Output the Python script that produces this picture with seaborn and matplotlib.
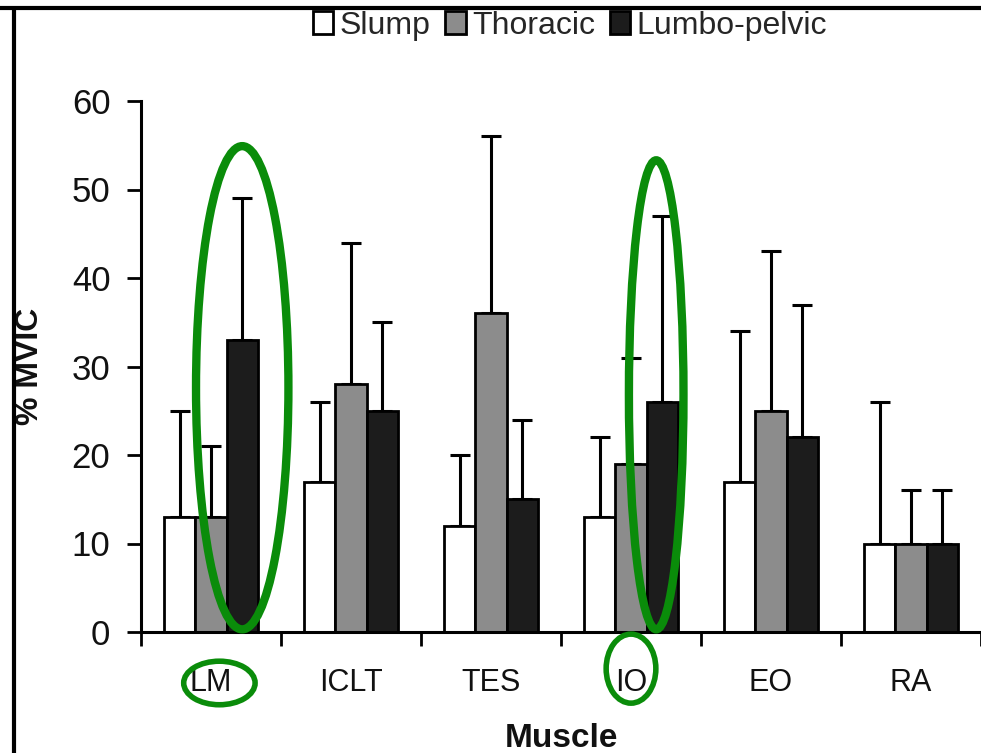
import numpy as np
import pandas as pd
import matplotlib
matplotlib.use("Agg")
import matplotlib.pyplot as plt
from matplotlib.patches import Ellipse, Patch
from matplotlib.lines import Line2D
import seaborn as sns

# ---- data ----
muscles = ["LM", "ICLT", "TES", "IO", "EO", "RA"]
postures = ["Slump", "Thoracic", "Lumbo-pelvic"]
slump_mean = [13, 17, 12, 13, 17, 10]
thoracic_mean = [13, 28, 36, 19, 25, 10]
lumbo_mean = [33, 25, 15, 26, 22, 10]
slump_sd = [12, 9, 8, 9, 17, 16]
thoracic_sd = [8, 16, 20, 12, 18, 6]
lumbo_sd = [16, 10, 9, 21, 15, 6]
y_ticks = [0, 10, 20, 30, 40, 50, 60]

colors = {"Slump": "#ffffff", "Thoracic": "#8c8c8c", "Lumbo-pelvic": "#1c1c1c"}
green = "#0a8c0a"

rows = []
for p, means, sds in zip(postures, [slump_mean, thoracic_mean, lumbo_mean],
                         [slump_sd, thoracic_sd, lumbo_sd]):
    for m, v, s in zip(muscles, means, sds):
        rows.append({"Muscle": m, "Posture": p, "Mean": v, "SD": s})
df = pd.DataFrame(rows)

sns.set_theme(style="white")
plt.rcParams["font.family"] = ["Liberation Sans", "DejaVu Sans"]

fig = plt.figure(figsize=(9.81, 7.53), dpi=100)
ax = fig.add_axes([141 / 981, 121 / 753, 840 / 981, 531 / 753])

sns.barplot(data=df, x="Muscle", y="Mean", hue="Posture", order=muscles,
            hue_order=postures, palette=colors, errorbar=None, width=0.67,
            edgecolor="black", linewidth=2, ax=ax, legend=False, zorder=2)

# error bars (upper only), positioned from the drawn bars
for i, p in enumerate(postures):
    bars = ax.patches[i * len(muscles):(i + 1) * len(muscles)]
    xs = [b.get_x() + b.get_width() / 2 for b in bars]
    sub = df[df.Posture == p].set_index("Muscle").loc[muscles]
    ax.errorbar(xs, sub["Mean"], yerr=[np.zeros(len(xs)), sub["SD"]],
                fmt="none", ecolor="black", elinewidth=2.2, capsize=7,
                capthick=2.2, zorder=1)

ax.set_ylim(0, 60)
ax.set_xlim(-0.5, (981 - 141) / 141 - 0.5)
ax.set_yticks(y_ticks)
ax.set_yticklabels([str(t) for t in y_ticks], fontsize=25, color="#111111")
ax.set_xticks(np.arange(-0.5, len(muscles), 1.0))
ax.set_xticklabels([""] * len(np.arange(-0.5, len(muscles), 1.0)))
ax.set_xticks(np.arange(len(muscles)), minor=True)
ax.set_xticklabels(muscles, minor=True, fontsize=22, color="#111111")
ax.tick_params(axis="x", which="minor", length=0, pad=26)
ax.tick_params(axis="x", which="major", length=10, width=2, direction="out",
               color="black", bottom=True)
ax.tick_params(axis="y", length=10, width=2, direction="out", color="black",
               pad=12, left=True)

for s in ["top", "right"]:
    ax.spines[s].set_visible(False)
for s in ["left", "bottom"]:
    ax.spines[s].set_color("black")
    ax.spines[s].set_linewidth(2.2)

ax.set_xlabel("Muscle", fontsize=24, fontweight="bold", color="#111111")
ax.set_ylabel("% MVIC", fontsize=23, fontweight="bold", color="#111111")
ax.xaxis.set_label_coords(0.5, -0.172)
ax.yaxis.set_label_coords(-0.114, 0.5)

handles = [Patch(facecolor=colors[p], edgecolor="black", linewidth=2) for p in postures]
fig.legend(handles, postures, loc="center", bbox_to_anchor=(0.581, 0.966), ncol=3,
           frameon=False, fontsize=23, handlelength=0.65, handleheight=0.7,
           handletextpad=0.2, columnspacing=0.45, borderpad=0)

# green annotation ellipses
xt = ax.get_xaxis_transform()
ax.add_patch(Ellipse((0 + 0.223, 27.6), 0.66, 54.6, fill=False, edgecolor=green,
                     linewidth=6, zorder=5, clip_on=False))
ax.add_patch(Ellipse((3 + 0.18, 26.8), 0.39, 53.0, fill=False, edgecolor=green,
                     linewidth=6, zorder=5, clip_on=False))
ax.add_patch(Ellipse((0.06, -0.096), 0.51, 0.082, transform=xt, fill=False,
                     edgecolor=green, linewidth=4, zorder=5, clip_on=False))
ax.add_patch(Ellipse((3.0, -0.069), 0.355, 0.13, transform=xt, fill=False,
                     edgecolor=green, linewidth=4, zorder=5, clip_on=False))

# frame lines at top and left of the picture
fig.add_artist(Line2D([0, 1], [1 - 8 / 753, 1 - 8 / 753], transform=fig.transFigure,
                      color="black", linewidth=3))
fig.add_artist(Line2D([14 / 981, 14 / 981], [0, 1 - 8 / 753], transform=fig.transFigure,
                      color="black", linewidth=3))

fig.savefig("out.png", dpi=100)
